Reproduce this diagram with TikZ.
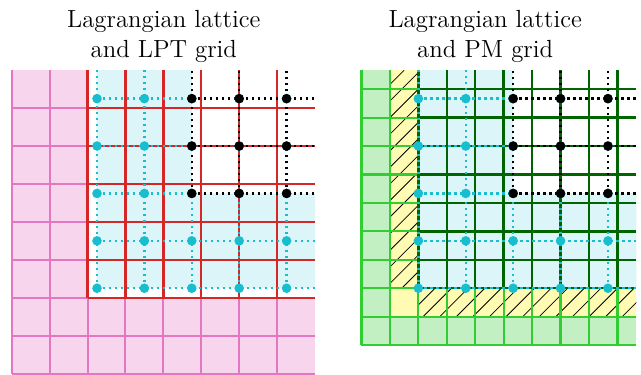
\documentclass[tikz,border=0pt]{standalone}
\usepackage{tikz}

\definecolor{tabpink}{RGB}{227,119,194}
\definecolor{tabred}{RGB}{214,39,40}
\definecolor{tabcyan}{RGB}{23,190,207}
\definecolor{limegr}{RGB}{50,205,50}
\definecolor{darkgr}{RGB}{0,100,0}

% particles of the Lagrangian lattice, with the dotted links
\newcommand{\lagrlattice}{%
  \foreach \k in {0,1} {
    \draw[cyanlink] (0,\k) -- (4.6,\k);
    \draw[cyanlink] (\k,0) -- (\k,4.6);
  }
  \foreach \k in {2,3,4} {
    \draw[cyanlink] (0,\k) -- (2,\k);
    \draw[cyanlink] (\k,0) -- (\k,2);
    \draw[blacklink] (2,\k) -- (4.6,\k);
    \draw[blacklink] (\k,2) -- (\k,4.6);
  }
  \foreach \i in {0,...,4}
    \foreach \j in {0,...,4}
      \fill[tabcyan] (\i,\j) circle (2.4pt);
  \foreach \i in {2,3,4}
    \foreach \j in {2,3,4}
      \fill[black] (\i,\j) circle (2.4pt);
}

\begin{document}
\begin{tikzpicture}[
    x=23.7pt, y=23.7pt,
    paneltitle/.style={anchor=north, align=center, inner sep=0pt,
                       font=\fontsize{12.4}{15}\selectfont},
    pinkgrid/.style={tabpink, line width=1pt},
    redgrid/.style={tabred, line width=1.2pt},
    greengrid/.style={limegr, line width=1.1pt},
    darkgrid/.style={darkgr, line width=1.2pt},
    hatchline/.style={black, line width=0.4pt},
    cyanlink/.style={tabcyan, line width=1.2pt, dash pattern=on 1.2pt off 1.8pt},
    blacklink/.style={black, line width=1.2pt, dash pattern=on 1.2pt off 1.8pt},
]
  \useasboundingbox (-2.046,-1.83) rectangle (11.477,6.081);

  % Titles
  \node[paneltitle] (lpttitle) at (1.41,5.865) {Lagrangian lattice\\and LPT grid};
  \node[paneltitle] (pmtitle) at (8.19,5.865) {Lagrangian lattice\\and PM grid};

  % LPT panel
  \fill[tabpink!30] (-1.8,-1.8) rectangle (4.6,4.6);
  \foreach \v in {-1.8,-1.0,...,3.9} {
    \draw[pinkgrid] (\v,-1.8) -- (\v,4.6);
    \draw[pinkgrid] (-1.8,\v) -- (4.6,\v);
  }
  \fill[white] (-0.2,-0.2) rectangle (4.6,4.6);
  \fill[tabcyan!15] (0,0) -- (4.6,0) -- (4.6,2) -- (2,2) -- (2,4.6) -- (0,4.6) -- cycle;
  \foreach \v in {-0.2,0.6,...,3.9} {
    \draw[redgrid] (\v,-0.2) -- (\v,4.6);
    \draw[redgrid] (-0.2,\v) -- (4.6,\v);
  }
  \lagrlattice

  % PM panel
  \begin{scope}[shift={(6.78,0)}]
    \fill[limegr!30] (-1.2,-1.2) rectangle (4.6,4.6);
    \fill[yellow!30] (-0.6,-0.6) rectangle (4.6,4.6);
    \begin{scope}
      \clip (-0.6,0) rectangle (0,4.6) (0,-0.6) rectangle (4.6,0);
      \foreach \k in {-15,...,15}
        \draw[hatchline] ({0.35*\k-0.6},-0.6) -- ++(5.2,5.2);
    \end{scope}
    \fill[white] (0,0) rectangle (4.6,4.6);
    \fill[tabcyan!15] (0,0) -- (4.6,0) -- (4.6,2) -- (2,2) -- (2,4.6) -- (0,4.6) -- cycle;
    \foreach \v in {-1.2,-0.6,...,4.3} {
      \draw[greengrid] (\v,-1.2) -- (\v,4.6);
      \draw[greengrid] (-1.2,\v) -- (4.6,\v);
    }
    \foreach \v in {0,0.6,...,4.3} {
      \draw[darkgrid] (\v,0) -- (\v,4.6);
      \draw[darkgrid] (0,\v) -- (4.6,\v);
    }
    \lagrlattice
  \end{scope}
\end{tikzpicture}
\end{document}
